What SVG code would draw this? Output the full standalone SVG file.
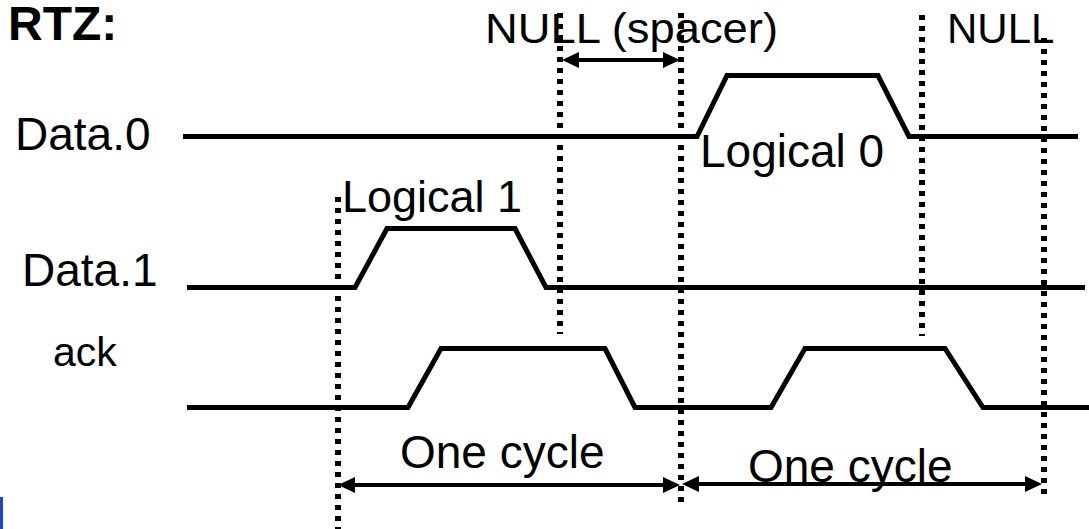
<svg xmlns="http://www.w3.org/2000/svg" width="1089" height="529" viewBox="0 0 1089 529">
  <style>
    .lbl { font-family: "Liberation Sans", Arial, sans-serif; fill: #000; }
    .title { font-family: "Liberation Sans", Arial, sans-serif; font-weight: bold; fill: #000; }
    .sig { fill: none; stroke: #000; stroke-width: 5; stroke-linejoin: miter; }
    .guide { stroke: #000; stroke-width: 6; stroke-dasharray: 5 6; fill: none; }
    .dim { stroke: #000; stroke-width: 4; fill: none; marker-start: url(#head); marker-end: url(#head); }
  </style>
  <defs>
    <marker id="head" viewBox="0 0 17 16" refX="12" refY="8" markerWidth="17" markerHeight="16" markerUnits="userSpaceOnUse" orient="auto-start-reverse">
      <path d="M0,0 L17,8 L0,16 Z" fill="#000"/>
    </marker>
  </defs>
  <rect width="1089" height="529" fill="#fff"/>

  <!-- headings -->
  <text class="title" x="8" y="40" font-size="48">RTZ:</text>
  <text class="title" x="72" y="561" font-size="47" fill="#555">NRZ:</text>
  <rect x="0" y="497" width="3" height="32" fill="#1a44d6"/>

  <!-- vertical dotted time markers -->
  <g id="guides">
    <line class="guide" x1="338" y1="197" x2="338" y2="529"/>
    <line class="guide" x1="560" y1="13" x2="560" y2="334"/>
    <line class="guide" x1="681" y1="13" x2="681" y2="503"/>
    <line class="guide" x1="922" y1="15" x2="922" y2="336"/>
    <line class="guide" x1="1044" y1="38" x2="1044" y2="498"/>
  </g>

  <!-- signal rows -->
  <g id="data0">
    <text class="lbl" x="15" y="150" font-size="46">Data.0</text>
    <polyline class="sig" points="183,136.5 697,136.5 727,75.5 878,75.5 909,136.5 1078,136.5"/>
  </g>
  <g id="data1">
    <text class="lbl" x="22" y="286" font-size="46">Data.1</text>
    <polyline class="sig" points="187,287.5 355,287.5 387,228.5 515,228.5 546,287.5 1085,287.5"/>
  </g>
  <g id="ack">
    <text class="lbl" x="53" y="366" font-size="41">ack</text>
    <polyline class="sig" points="187,407.5 408,407.5 441,348.5 605,348.5 635,407.5 771,407.5 805,348.5 945,348.5 983,407.5 1089,407.5"/>
  </g>

  <!-- annotations -->
  <g id="labels">
    <text class="lbl" x="485" y="43" font-size="42" textLength="293" lengthAdjust="spacingAndGlyphs">NULL (spacer)</text>
    <text class="lbl" x="947" y="43" font-size="42">NULL</text>
    <text class="lbl" x="700" y="167" font-size="46">Logical 0</text>
    <text class="lbl" x="342" y="212" font-size="45">Logical 1</text>
    <text class="lbl" x="400" y="468" font-size="46">One cycle</text>
    <text class="lbl" x="748" y="482" font-size="46">One cycle</text>
  </g>

  <!-- span arrows -->
  <g id="connectors">
    <line class="dim" x1="567" y1="60" x2="675" y2="60"/>
    <line class="dim" x1="343" y1="485" x2="675" y2="485"/>
    <line class="dim" x1="687" y1="484" x2="1037" y2="484"/>
  </g>
</svg>
